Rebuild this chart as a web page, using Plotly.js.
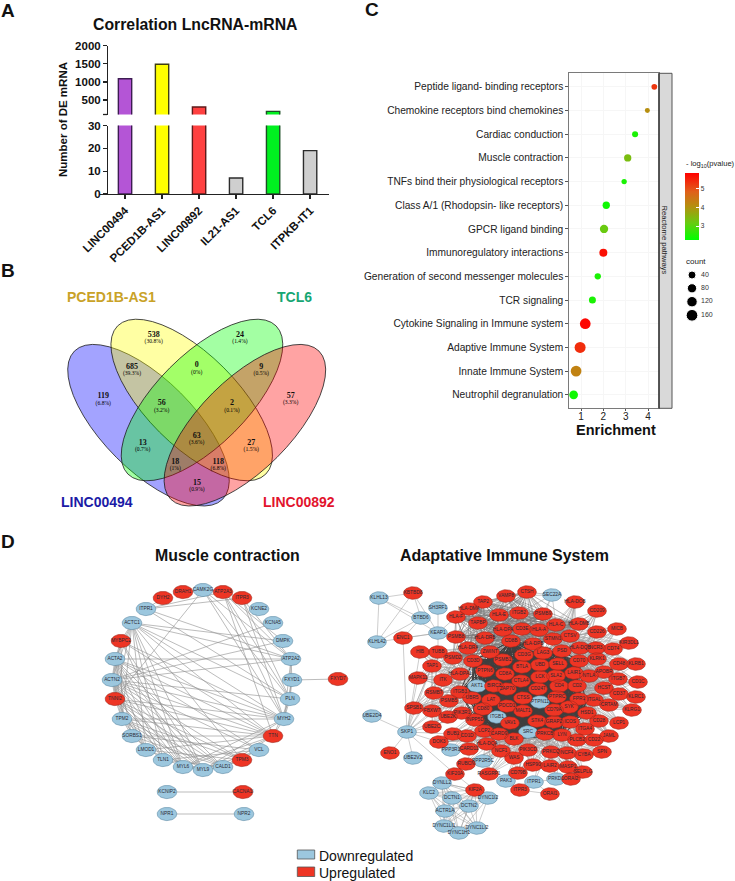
<!DOCTYPE html>
<html><head><meta charset="utf-8">
<script src="https://cdn.plot.ly/plotly-3.0.1.min.js"></script>
<style>html,body{margin:0;padding:0;background:#fff}</style></head>
<body><div id="chart" style="width:735px;height:881px"></div>
<script>
const SANS = '"Liberation Sans", Arial, sans-serif';
const SERIF = '"Liberation Serif", serif';

// ---------- Panel A ----------
const lncNames = ['LINC00494','PCED1B-AS1','LINC00892','IL21-AS1','TCL6','ITPKB-IT1'];
const lncCounts = [1087,1489,309,7,185,19];
const lncFill = ['#B455D6','#FFFF00','#FF4040','#CFCFCF','#00F020','#CFCFCF'];
const lncEdge = ['#3d1c52','#3f3f10','#5e1a1a','#2c2c2c','#1d4f26','#2c2c2c'];

// ---------- Panel B ----------
const vennSets = ['LINC00494','PCED1B-AS1','TCL6','LINC00892'];
const vennCx = [148.5,191.7,202,244.9];
const vennCy = [425.2,400,400,425.2];
const vennAngle = [45,45,-45,-45];
const vennFill = ['rgba(0,0,255,0.36)','rgba(255,255,0,0.36)','rgba(0,255,0,0.36)','rgba(255,0,0,0.36)'];
const vennSetX = [97.3,111.3,294,298.7];
const vennSetY = [501.7,297.3,297.3,501.7];
const vennSetColor = ['#1B1BA6','#C9A227','#17A673','#E2142D'];
const vennCount = ['538','24','685','0','9','119','56','2','57','63','13','27','18','118','15'];
const vennPct = ['(30.8%)','(1.4%)','(39.3%)','(0%)','(0.5%)','(6.8%)','(3.2%)','(0.1%)','(3.3%)','(3.6%)','(0.7%)','(1.5%)','(1%)','(6.8%)','(0.9%)'];
const vennX = [153.7,240,132,196.7,261.3,103.3,161.7,232,290.7,196.7,142.7,251.3,175.3,218.3,197];
const vennY = [335,335,367,365.3,367,396.3,403.3,403.3,396,435.7,443,443,461.7,461.7,482.7];

// ---------- Panel C ----------
const pathways = ['Peptide ligand- binding receptors','Chemokine receptors bind chemokines','Cardiac conduction','Muscle contraction','TNFs bind their physiological receptors','Class A/1 (Rhodopsin- like receptors)','GPCR ligand binding','Immunoregulatory interactions','Generation of second messenger molecules','TCR signaling','Cytokine Signaling in Immune system','Adaptive Immune System','Innate Immune System','Neutrophil degranulation'];
const enrichment = [4.28,3.97,3.42,3.09,2.93,2.13,2.03,2.0,1.75,1.51,1.19,0.96,0.78,0.67];
const pathCount = [48,37,54,79,42,79,102,95,59,73,170,180,170,113];
const logP = [5.3,4.1,2.5,3.4,2.5,2.4,3.2,5.7,2.5,2.5,5.8,5.4,4.3,2.4];
const countLegend = [40,80,120,160];

// ---------- Panel D: muscle network ----------
const muscleNames = ['CAMK2G','ATP2A3','ITPR3','KCNE2','KCNA5','DMPK','ATP2A2','FXYD1','FXYD7','PLN','MYH2','TTN','VCL','TPM3','CALD1','MYL9','MYL6','TLN1','LMOD1','SORBS1','TPM2','TNNI2','ACTN2','ACTA2','MYBPC2','ACTC1','ITPR1','DYH2','DRAH1','KCNIP2','CACNA1I','NPR1','NPR2'];
const muscleX = [203,223,242,259,273,283,291,292,338,290,284,273,259,242,223,203,183,163,146,132,122,115,112,115,121,132,146,163,183,167,243,167,244];
const muscleY = [590,592,598,609,623,641,659,680,679,699,719,736,750,760,767,770,767,760,750,736,719,699,680,659,641,623,609,598,592,792,792,814,814];
const muscleUp = ['ATP2A3','ITPR3','FXYD7','TTN','TPM3','TNNI2','MYBPC2','DYH2','DRAH1','CACNA1I'];
const muscleLinks = [
 ['ACTN2','TTN MYH2 PLN ATP2A2 DMPK VCL TPM3 CALD1 MYL9 MYL6 TLN1 LMOD1 SORBS1 TPM2 TNNI2 ACTA2 MYBPC2 ACTC1 KCNA5'],
 ['ACTA2','TTN MYH2 VCL CALD1 MYL9 MYL6 TLN1 LMOD1 SORBS1 TPM2 TNNI2 MYBPC2 ACTC1 ATP2A2'],
 ['ACTC1','TTN MYH2 PLN ATP2A2 DMPK MYL9 MYL6 TPM3 TLN1 LMOD1 TPM2 TNNI2 MYBPC2'],
 ['MYBPC2','TTN MYH2 MYL9 MYL6 TPM2 TNNI2'],
 ['TNNI2','TTN MYH2 MYL9 MYL6 TPM3 TPM2 LMOD1 CALD1 CAMK2G'],
 ['TPM2','TTN MYH2 MYL9 MYL6 TPM3 CALD1 LMOD1 SORBS1'],
 ['SORBS1','VCL CALD1 TLN1 TTN'],['LMOD1','TPM3 TTN MYL9'],['TLN1','VCL MYL9 CALD1'],
 ['MYL6','TTN MYH2 MYL9 CALD1'],['MYL9','TTN VCL CALD1 MYH2'],['CALD1','TPM3 TTN VCL'],
 ['ITPR1','ATP2A2 ITPR3 DYH2 PLN ATP2A3'],['ATP2A3','ATP2A2 PLN MYH2 TTN ITPR3 CAMK2G DMPK'],
 ['ITPR3','ATP2A2 PLN MYH2'],['CAMK2G','PLN MYH2 ATP2A2 DRAH1'],
 ['ATP2A2','FXYD1 PLN MYH2'],['FXYD1','PLN MYH2 FXYD7'],['PLN','MYH2 TTN'],['MYH2','TTN'],
 ['KCNIP2','CACNA1I'],['NPR1','NPR2']
];

// ---------- Panel D: adaptive immune network ----------
const immuneNames = [
 'KLHL13','KBTBD8','BTBD6','SH3RF1','KEAP1','KLHL42','ENC1','UBE2D4','SKP1','VAMP8',
 'CTSH','SEC22A','TAP2','HLA-DMA','HLA-F','HLA-E','ITGB2','TAPBP','PSMB9','PSMB8',
 'HLA-DRB','HLA-DPA','CD3E','HLA-A','CD8B','HLA-DRA','HLA-DPB','TUBB','HIB','CD3G',
 'LAG3','ZWINT','PSMD2','CD3D','PSMB1','TAP1','BTLA','UBD','MAPK11','PTPN6',
 'CD8A','LCK','ITK','HLA-DPA1','CTLA4','AKT1','BIRC3','ZAP70','CD247','RSMB7',
 'ITGB3','UBR5','LAT','CTSS','PTPN11','PSMB5','CD80','PDCD1','MALT1','SPSB1',
 'FBXW7','ITGB1','PIK3R1','INPP5D','VAV1','STK4','UBE2K','UBE2C','LCP2','CARD9',
 'BLK','SRC','PRKCB','LYN','PLCB2','CD22','JAML','ITGA4','BUB1','CD1D',
 'DOK3','PPP3R1','CARD11','HLA-DQA','NCF1','PIK3CD','PRKCQ','NCF4','CYBA','SPN',
 'ENO1','UBE2V2','RUBCN','PPP2R5C','WAS','HSP90','LAIR2','MASP1','SELPLG','KIF20A',
 'RASGRP1','CD79B','ORAI2','PRKD1','ITPR1','PAK3','ITPR3','ORAI1','DYNLL2','KLC2',
 'DCTN1','KIF2A','DYNC1I2','DCTN2','ACTR1A','DYNC1LI1','DYNC1H1','DYNC1LI2','HLA-DOB','CD209',
 'HLA-C','HLA-DMB','CD226','MICB','CTSV','STMN1','KIR3DL1','HLA-DQB','NCR3','CD74',
 'PSD','CD70','KLRK1','CD48','KLRB1','SELL','LAIR1','APOBR','NTLA','ITGB7',
 'CD1C','SLA2','CD4','CD2','HCST','CD37','KLRC1','PTPRC','FPR1','ITGAL',
 'CRTAM','CD79A','SYK','HSD1','KLRG1','CD28','LCP1','ICOS','GRAP2'];
const immuneX = [
 379,413,421,438,438,377,403,372,407,506,
 527,552,483,469,456,499,519,478,543,456,
 485,503,522,539,511,468,533,438,420,524,
 543,490,453,473,503,432,522,540,418,485,
 505,540,443,460,521,477,494,507,538,434,
 460,472,491,523,540,449,483,507,523,414,
 432,497,462,475,510,537,448,432,484,499,
 514,528,545,562,577,594,609,585,453,467,
 439,451,469,487,501,528,551,567,584,602,
 390,413,466,483,514,533,550,568,583,455,
 489,518,571,556,534,506,520,550,442,429,
 452,475,488,469,445,444,459,477,575,597,
 556,579,597,617,570,553,629,580,596,613,
 562,579,597,619,636,558,574,604,589,618,
 638,556,559,577,604,619,636,557,579,594,
 609,554,569,587,632,599,619,570,554];
const immuneY = [
 598,593,618,608,633,642,638,716,732,596,
 592,595,602,609,617,615,613,623,614,637,
 638,630,629,630,641,648,644,652,652,655,
 653,652,658,661,660,666,667,665,678,671,
 674,677,680,674,681,686,686,689,689,693,
 692,698,700,698,702,701,709,706,711,708,
 711,717,713,720,723,721,717,727,731,734,
 739,732,734,735,740,740,736,729,734,736,
 742,750,749,744,751,750,752,753,755,752,
 753,758,764,761,758,765,766,767,772,774,
 774,773,779,779,782,781,790,794,783,793,
 798,790,798,806,811,826,833,828,602,611,
 625,624,632,629,636,639,643,648,648,649,
 651,661,659,664,664,664,673,672,676,679,
 682,676,686,686,688,694,697,697,699,700,
 705,710,707,713,710,721,723,722,722];
const immuneDown = ['KLHL13','BTBD6','SH3RF1','KEAP1','KLHL42','UBE2D4','SKP1','SEC22A','AKT1','PTPN11','ITGB1','SRC','PPP3R1','UBE2V2','PPP2R5C','PRKD1','ITPR1','PAK3','DYNLL2','KLC2','DCTN1','DYNC1I2','DCTN2','ACTR1A','DYNC1LI1','DYNC1H1','DYNC1LI2'];
const coreGroup = 'LCK ZAP70 CD247 PTPN11 CTSS MALT1 PDCD1 LAT VAV1 STK4 SRC ITGB1 AKT1 PTPN6 CD8A BTLA CTLA4 CD4 CD2 PTPRC SYK GRAP2 ICOS CD79A LYN PRKCB BLK LCP2 CD80 BIRC3 CARD9 UBD CD3G CD3D SLA2 SELL LAG3 PSMB1 ZWINT CD70 LAIR1 FPR1 INPP5D ITGB3 UBR5 HSD1 PSD CD8B';
const mhcGroup = 'HLA-DMA HLA-F HLA-E TAPBP TAP2 HLA-DRB HLA-DPA CD3E HLA-A PSMB8 HLA-DRA HLA-DPB CD8B ITGB2 PSMB9 HLA-C HLA-DMB VAMP8 CTSH PSMD2 CD3D ZWINT LAG3 CTSV STMN1';
const dyneinGroup = 'DYNLL2 KLC2 DCTN1 KIF2A DYNC1I2 DCTN2 ACTR1A DYNC1LI1 DYNC1H1 DYNC1LI2';
const immuneFans = [
 ['CD209 CD226 MICB KIR3DL1 NCR3 CD74 KLRK1 CD48 KLRB1 ITGB7 CD1C CD37 KLRC1 HCST CRTAM KLRG1 LCP1 CD28 ITGAL NTLA APOBR JAML CD22 PLCB2 ITGA4 HLA-DOB HLA-DQB','CD247 LCK CD4 SYK PTPRC CD2 CD3G SELL HLA-C STMN1 CTSV'],
 ['TUBB PSMD2 ITK HLA-DPA1 RSMB7 PSMB5 PIK3R1 UBE2K HIB TAP1 MAPK11 SPSB1 FBXW7 UBE2C','LCK AKT1 ZAP70 PTPN6 LAT CD3D HLA-DRA ITGB3'],
 ['PIK3CD NCF1 WAS HSP90 CD79B RASGRP1 PPP2R5C RUBCN CARD11 HLA-DQA PPP3R1 SELPLG MASP1 NCF4 SPN CYBA PRKCQ LAIR2 DOK3 BUB1 CD1D','LCK SRC SYK LAT PTPN11 BLK LYN PRKCB'],
 ['SPSB1 FBXW7 UBE2C MAPK11 RSMB7 TAP1 UBE2K ENC1 UBE2D4 UBE2V2 ENO1 PSMB5 BUB1 DOK3 KIF20A PSMD2 HIB','SKP1'],
 ['KLHL13 KBTBD8 KLHL42 ENC1 SH3RF1','KEAP1'],
 ['KLHL13 KBTBD8 KLHL42 ENC1','BTBD6'],
 ['KBTBD8 KLHL42','KLHL13'],['KLHL42','KBTBD8'],
 ['PSMB8 TUBB HLA-F','KEAP1'],
 ['HIB MAPK11 SPSB1 FBXW7 UBE2C','TUBB PSMD2 TAP1'],
 ['KIF20A KIF2A','DYNLL2'],['KIF2A','KIF20A'],
 ['ORAI1 ITPR3','ITPR1'],['ORAI1','ITPR3'],['ORAI2 ITPR1','PRKD1'],['PAK3','SRC LCK'],['ITPR1 PRKD1 ORAI2','PRKCB SYK'],
 ['SEC22A','VAMP8 CTSH ITGB2 HLA-A PSMB9 HLA-C']
];

// ---------- pixel helpers ----------
const W = 735, H = 881;
const xDom = (l,r)=>[l/W,r/W];
const yDom = (t,b)=>[1-b/H,1-t/H];
function ellipse(cx,cy,a,b,deg){
  const xs=[],ys=[],t=deg*Math.PI/180;
  for(let i=0;i<=48;i++){const u=i/48*2*Math.PI;
    xs.push(cx+a*Math.cos(u)*Math.cos(t)-b*Math.sin(u)*Math.sin(t));
    ys.push(cy+a*Math.cos(u)*Math.sin(t)+b*Math.sin(u)*Math.cos(t));}
  return [xs,ys];
}
function nodeTraces(names,X,Y,isUp,rx,ry){
  const mk=(flag,fill,edge)=>{const xs=[],ys=[];
    names.forEach((n,i)=>{ if(isUp(n)!==flag) return;
      const [a,b]=ellipse(X[i],Y[i],rx,ry,0); xs.push(...a,null); ys.push(...b,null);});
    return {type:'scatter',mode:'lines',x:xs,y:ys,xaxis:'x4',yaxis:'y4',fill:'toself',fillcolor:fill,line:{color:edge,width:0.6},hoverinfo:'skip',showlegend:false};};
  return [mk(false,'#9CC7DE','#5c8aa5'),mk(true,'#EE3524','#a1281c'),
   {type:'scatter',mode:'text',x:X,y:Y,text:names,textposition:'middle center',xaxis:'x4',yaxis:'y4',textfont:{family:SANS,size:4.8,color:'#2a2a35'},hoverinfo:'skip',showlegend:false,cliponaxis:false}];
}
function edgeTrace(pairs,names,X,Y,color,width){
  const xs=[],ys=[];
  pairs.forEach(([p,q])=>{const i=names.indexOf(p),j=names.indexOf(q);
    if(i<0||j<0||i===j) return; xs.push(X[i],X[j],null); ys.push(Y[i],Y[j],null);});
  return {type:'scatter',mode:'lines',x:xs,y:ys,xaxis:'x4',yaxis:'y4',line:{color,width},hoverinfo:'skip',showlegend:false};
}
const clique = s=>{const a=s.split(' '),r=[];a.forEach((p,i)=>a.slice(i+1).forEach(q=>r.push([p,q])));return r;};
const fans = l=>{const r=[];l.forEach(([A,B])=>A.split(' ').forEach(p=>B.split(' ').forEach(q=>r.push([p,q]))));return r;};

const traces=[];
// A bars
const barBase={type:'bar',x:lncNames,y:lncCounts,width:0.36,marker:{color:lncFill,line:{color:lncEdge,width:1.4}},hoverinfo:'skip',showlegend:false};
traces.push({...barBase,xaxis:'x',yaxis:'y'},{...barBase,xaxis:'x2',yaxis:'y2'});
// C dots
traces.push({type:'scatter',mode:'markers',x:enrichment,y:pathways,xaxis:'x3',yaxis:'y3',cliponaxis:false,
  marker:{size:pathCount.map(c=>0.82*Math.sqrt(c)),opacity:1,color:logP,cmin:2.27,cmax:5.87,
   colorscale:[[0,'#00FF00'],[0.25,'#66CC10'],[0.5,'#B4900F'],[0.72,'#E0601A'],[1,'#FF0000']],
   line:{width:0},
   colorbar:{x:685.3/W,xanchor:'left',xpad:0,ypad:0,y:1-172.7/H,yanchor:'top',lenmode:'pixels',len:67.3,thicknessmode:'pixels',thickness:13.7,outlinewidth:0,
    tickvals:[3,4,5],ticks:'inside',ticklen:3,tickcolor:'#fff',tickfont:{family:SANS,size:6.5,color:'#333'}}},
  hoverinfo:'skip',showlegend:false});
// C size legend
const legendY=[275,288.3,301.7,315.3];
traces.push({type:'scatter',mode:'markers',x:legendY.map(()=>692),y:legendY,xaxis:'x4',yaxis:'y4',
  marker:{color:'#000',opacity:1,size:countLegend.map(c=>6.77+0.0308*c)},hoverinfo:'skip',showlegend:false});
traces.push({type:'scatter',mode:'text',x:legendY.map(()=>701),y:legendY,xaxis:'x4',yaxis:'y4',
  text:countLegend.map(String),textposition:'middle right',textfont:{family:SANS,size:7,color:'#333'},hoverinfo:'skip',showlegend:false});
// B ellipses
vennSets.forEach((s,i)=>{const [a,b]=ellipse(vennCx[i],vennCy[i],104.8,45.5,vennAngle[i]);
  traces.push({type:'scatter',mode:'lines',x:a,y:b,xaxis:'x4',yaxis:'y4',fill:'toself',fillcolor:vennFill[i],line:{color:'#1a1a1a',width:0.8},hoverinfo:'skip',showlegend:false});});
traces.push({type:'scatter',mode:'text',x:vennX,y:vennY,text:vennCount,xaxis:'x4',yaxis:'y4',textfont:{family:SERIF,size:8,color:'#111',weight:700},hoverinfo:'skip',showlegend:false});
traces.push({type:'scatter',mode:'text',x:vennX,y:vennY.map(v=>v+7.1),text:vennPct,xaxis:'x4',yaxis:'y4',textfont:{family:SERIF,size:5.6,color:'#000'},hoverinfo:'skip',showlegend:false});
// D muscle
const mUp=n=>muscleUp.includes(n);
const mPairs=[];muscleLinks.forEach(([a,b])=>b.split(' ').forEach(q=>mPairs.push([a,q])));
traces.push(edgeTrace(mPairs,muscleNames,muscleX,muscleY,'#8f8f8f',0.6));
traces.push(...nodeTraces(muscleNames,muscleX,muscleY,mUp,9.8,6.6));
// D immune
const iUp=n=>!immuneDown.includes(n);
traces.push(edgeTrace(fans(immuneFans),immuneNames,immuneX,immuneY,'#9a9a9a',0.5));
traces.push(edgeTrace(clique(mhcGroup),immuneNames,immuneX,immuneY,'#7a7a7a',0.55));
traces.push(edgeTrace(clique(dyneinGroup),immuneNames,immuneX,immuneY,'#9a9a9a',0.5));
traces.push(edgeTrace(clique(coreGroup),immuneNames,immuneX,immuneY,'#3f3f3f',1));
traces.push(...nodeTraces(immuneNames,immuneX,immuneY,iUp,9.4,6.3));

const ann=(text,x,y,size,opt={})=>({text,x,y,xref:'x4',yref:'y4',showarrow:false,xanchor:'center',yanchor:'middle',font:{family:SANS,size,color:'#111'},...opt});
const bold=s=>'<b>'+s+'</b>';
const annotations=[
 ann(bold('A'),8,10,19),ann(bold('B'),8,270,19),ann(bold('C'),372,9,19),ann(bold('D'),8,541,19),
 ann(bold('Correlation LncRNA-mRNA'),195,24,15.8),
 ann(bold('Number of DE mRNA'),63,120,11.5,{textangle:-90}),
 ann(bold('Enrichment'),616,430,14.5),
 ann('- log<sub>10</sub>(pvalue)',684,164,7.6,{xanchor:'left',font:{family:SANS,size:7.6,color:'#222'}}),
 ann('count',684,261,8,{xanchor:'left',font:{family:SANS,size:8,color:'#222'}}),
 ann('Reactome pathways',664.5,240,7.6,{textangle:90,font:{family:SANS,size:7.6,color:'#222'}}),
 ann(bold('Muscle contraction'),227,555,15.9),
 ann(bold('Adaptative Immune System'),504,555,16),
 ann('Downregulated',317,855.7,14,{xanchor:'left'}),
 ann('Upregulated',317,872.7,14,{xanchor:'left'}),
];
vennSets.forEach((s,i)=>annotations.push(ann(bold(s),vennSetX[i],vennSetY[i],14,{font:{family:SANS,size:14,color:vennSetColor[i]}})));

const rect=(x0,y0,x1,y1,fill,line,w=1)=>({type:'rect',xref:'x4',yref:'y4',x0,y0,x1,y1,fillcolor:fill,line:{color:line,width:w}});
const axisLine={showline:true,linecolor:'#222',linewidth:1.3,ticks:'outside',ticklen:4,tickcolor:'#222',tickwidth:1.3,showgrid:false,zeroline:false};
const tickBold={family:SANS,size:11.5,color:'#111',weight:700};
const layout={
 width:W,height:H,margin:{l:0,r:0,t:0,b:0},paper_bgcolor:'#fff',plot_bgcolor:'rgba(0,0,0,0)',hovermode:false,bargap:0,showlegend:false,font:{family:SANS},
 xaxis:{...axisLine,domain:xDom(100,329),anchor:'y',type:'category',categoryarray:lncNames,range:[-0.676,5.51],tickangle:-45,tickfont:{family:SANS,size:11.5,color:'#111',weight:700}},
 yaxis:{...axisLine,domain:yDom(125.5,194),anchor:'free',position:107/W,range:[0,30],tickvals:[0,10,20,30],tickfont:tickBold},
 xaxis2:{visible:false,domain:xDom(100,329),anchor:'y2',type:'category',categoryarray:lncNames,range:[-0.676,5.51]},
 yaxis2:{...axisLine,domain:yDom(45.7,114.5),anchor:'free',position:107/W,range:[100,2000],tickvals:[500,1000,1500,2000],tickfont:tickBold},
 xaxis3:{domain:xDom(569.3,659),anchor:'y3',range:[0.476,4.49],tickvals:[1,2,3,4],showline:true,mirror:true,linecolor:'#7a7a7a',linewidth:1,ticks:'outside',ticklen:2,tickcolor:'#555',ticklabelstandoff:-3,
  showgrid:true,gridcolor:'#f6f6f6',zeroline:false,tickfont:{family:SANS,size:10,color:'#222'}},
 yaxis3:{domain:yDom(73.3,408.3),anchor:'x3',type:'category',categoryarray:pathways,range:[13.57,-0.57],showline:true,mirror:true,linecolor:'#7a7a7a',linewidth:1,ticks:'outside',ticklen:3,tickcolor:'#555',
  showgrid:true,gridcolor:'#f6f6f6',zeroline:false,tickfont:{family:SANS,size:10.2,color:'#222'}},
 xaxis4:{visible:false,domain:[0,1],range:[0,W],anchor:'y4',fixedrange:true},
 yaxis4:{visible:false,domain:[0,1],range:[H,0],anchor:'x4',fixedrange:true},
 shapes:[rect(659,73.3,672,408.3,'#D9D9D9','#555',1),
  {type:'line',xref:'x4',yref:'y4',x0:659,x1:659,y0:73.3,y1:408.3,line:{color:'#333',width:1.4}},
  {type:'line',xref:'x4',yref:'y4',x0:103,x1:107,y0:114.5,y1:114.5,line:{color:'#222',width:1.3}},
  rect(297.3,850,314.7,859,'#9CC7DE','#555',0.8),rect(297.3,867,314.7,876.5,'#EE3524','#555',0.8)],
 annotations
};
Plotly.newPlot('chart',traces,layout,{displayModeBar:false,staticPlot:true});
</script></body></html>
